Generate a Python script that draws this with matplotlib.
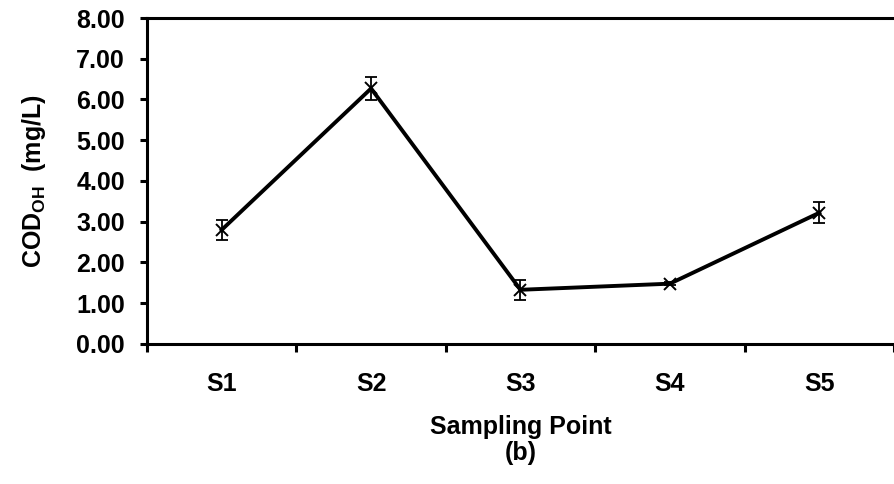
import numpy as np
import matplotlib
matplotlib.use("Agg")
import matplotlib.pyplot as plt
from matplotlib.ticker import FixedLocator, FormatStrFormatter

plt.rcParams['font.family'] = ['Liberation Sans', 'DejaVu Sans']
plt.rcParams['font.weight'] = 'bold'
plt.rcParams['mathtext.fontset'] = 'custom'
plt.rcParams['mathtext.rm'] = 'Liberation Sans:bold'
plt.rcParams['mathtext.bf'] = 'Liberation Sans:bold'
plt.rcParams['mathtext.it'] = 'Liberation Sans:bold'

# ---------------- data ----------------
points = ['S1', 'S2', 'S3', 'S4', 'S5']
cod = [2.80, 6.27, 1.33, 1.48, 3.22]
err = [0.24, 0.29, 0.25, 0.03, 0.26]

x = np.arange(len(points))

# ---------------- figure ----------------
fig = plt.figure(figsize=(8.94, 4.84), dpi=100)
ax = fig.add_axes([0.1644, 0.2893, 0.8356, 0.6735])

ax.plot(x, cod, color='black', lw=2.8, zorder=2)
ax.errorbar(x, cod, yerr=err, fmt='none', ecolor='black', elinewidth=1.3,
            capsize=4.5, capthick=1.3, zorder=3)
ax.plot(x, cod, 'x', color='black', ms=9, mew=1.4, zorder=4)

ax.set_xlim(-0.5, 4.5)
ax.set_ylim(0, 8)
ax.set_yticks(np.arange(0, 9, 1))
ax.yaxis.set_major_formatter(FormatStrFormatter('%.2f'))
ax.set_xticks(x)
ax.set_xticklabels(points)
ax.xaxis.set_minor_locator(FixedLocator(np.arange(-0.5, 5, 1)))

fs = 18
ax.tick_params(axis='x', which='major', length=0, pad=20, labelsize=fs)
ax.tick_params(axis='x', which='minor', length=6, width=2.2, direction='out')
ax.tick_params(axis='y', which='major', length=5, width=2.2, direction='out',
               pad=11, labelsize=fs)

for side in ['left', 'bottom', 'top']:
    ax.spines[side].set_linewidth(2.2)
ax.spines['right'].set_visible(False)

ax.set_xlabel('Sampling Point\n(b)', fontsize=fs, fontweight='bold', labelpad=14,
              linespacing=1.1)
ax.set_ylabel(r'COD$_{\rm OH}$  (mg/L)', fontsize=fs, fontweight='bold', labelpad=20)

fig.savefig('out.png', dpi=100)
